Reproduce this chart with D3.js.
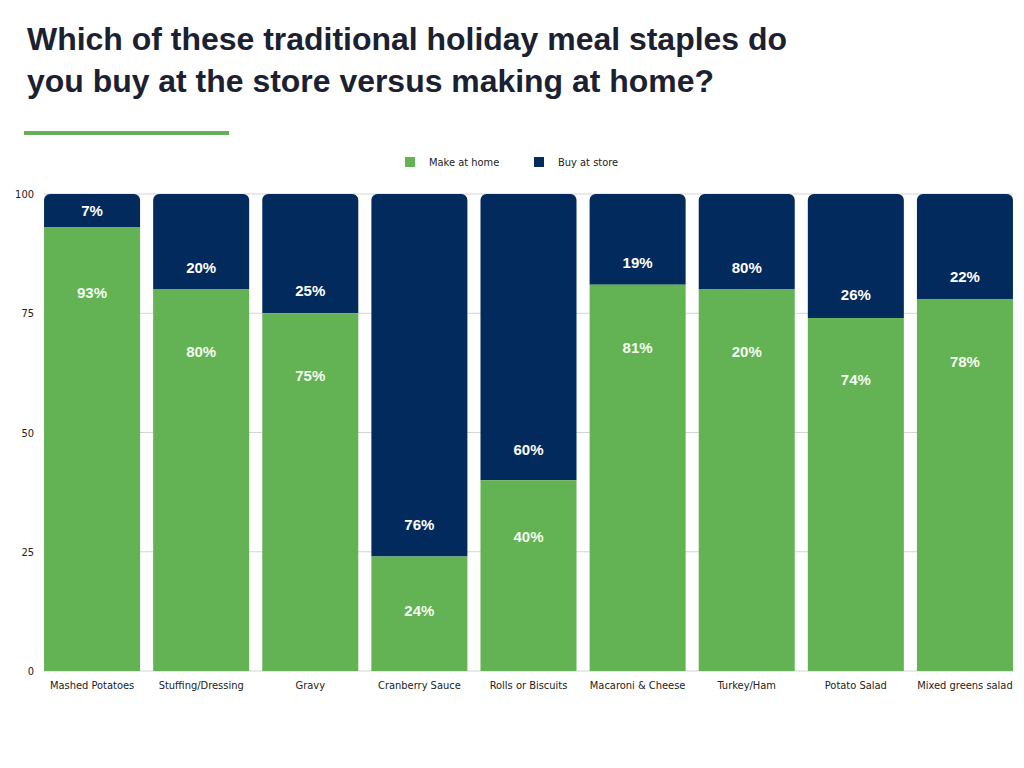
<!DOCTYPE html>
<html><head><meta charset="utf-8">
<script src="https://cdn.jsdelivr.net/npm/d3@7"></script>
<style>body{margin:0;background:#fff}svg{display:block}</style>
</head><body>
<svg id="c" width="1024" height="768"></svg>
<script>
const categories = ["Mashed Potatoes","Stuffing/Dressing","Gravy","Cranberry Sauce","Rolls or Biscuits","Macaroni & Cheese","Turkey/Ham","Potato Salad","Mixed greens salad"];
const makeAtHome = [93,80,75,24,40,81,80,74,78];
const buyAtStore = [7,20,25,76,60,19,20,26,22];
const homeLabels = ["93%","80%","75%","24%","40%","81%","20%","74%","78%"];
const storeLabels = ["7%","20%","25%","76%","60%","19%","80%","26%","22%"];
const yTicks = [0,25,50,75,100];
const seriesNames = ["Make at home","Buy at store"];

const GREEN = "#63b355", NAVY = "#032a5c";
const narrow = "'Liberation Sans Narrow','DejaVu Sans Condensed',sans-serif";
const svg = d3.select("#c");

// title
const title = svg.append("g").attr("font-family","'Liberation Sans',Arial,sans-serif").attr("font-weight","bold").attr("font-size",32).attr("fill","#1b2130");
title.append("text").attr("x",27).attr("y",50).attr("textLength",760).attr("lengthAdjust","spacingAndGlyphs").text("Which of these traditional holiday meal staples do");
title.append("text").attr("x",27).attr("y",92).attr("textLength",687).attr("lengthAdjust","spacingAndGlyphs").text("you buy at the store versus making at home?");
svg.append("rect").attr("x",24).attr("y",131).attr("width",205).attr("height",4).attr("fill","#6aad59");

// legend
const leg = svg.append("g").attr("font-family",narrow).attr("font-size",11).attr("fill","#222");
[[405,GREEN],[534,NAVY]].forEach(([x,c],i)=>{
  leg.append("rect").attr("x",x).attr("y",157).attr("width",10).attr("height",10).attr("fill",c);
  leg.append("text").attr("x",x+24).attr("y",166).text(seriesNames[i]);
});

const x = d3.scaleBand().domain(categories).range([37.5,1019.5]).paddingInner(0.12).paddingOuter(0.06);
const y = d3.scaleLinear().domain([0,100]).range([671,194]);

// grid
const grid = svg.append("g");
yTicks.forEach(t=>{
  grid.append("line").attr("x1",44).attr("x2",1013).attr("y1",y(t)).attr("y2",y(t)).attr("stroke","#d4d4d4").attr("stroke-width",1);
});
const yAxis = svg.append("g").attr("transform","translate(34,0)")
  .call(d3.axisLeft(y).tickValues(yTicks).tickSize(0).tickPadding(0));
yAxis.select(".domain").remove();
yAxis.selectAll("text").attr("font-family",narrow).attr("font-size",11).attr("fill","#222");

// x labels
const xAxis = svg.append("g").attr("transform","translate(0,679)")
  .call(d3.axisBottom(x).tickSize(0).tickPadding(0));
xAxis.select(".domain").remove();
xAxis.selectAll("text").attr("font-family",narrow).attr("font-size",11).attr("fill","#222").attr("dy","0.95em");

// bars
const r = 6;
const bars = svg.append("g");
categories.forEach((c,i)=>{
  const x0 = x(c), w = x.bandwidth();
  const top = y(100), mid = y(makeAtHome[i]), bot = y(0);
  const p = d3.path();
  p.moveTo(x0, mid);
  p.lineTo(x0, top + r);
  p.arcTo(x0, top, x0 + r, top, r);
  p.lineTo(x0 + w - r, top);
  p.arcTo(x0 + w, top, x0 + w, top + r, r);
  p.lineTo(x0 + w, mid);
  p.closePath();
  bars.append("path").attr("d", p.toString()).attr("fill", NAVY);
  bars.append("rect").attr("x",x0).attr("y",mid).attr("width",w).attr("height",bot-mid).attr("fill",GREEN);

  const cx = x0 + w/2;
  const navyY = Math.max((top+mid)/2, mid - Math.min(32, 18 + 0.2*buyAtStore[i]));
  const greenY = mid + 50 + 0.16*makeAtHome[i];
  bars.append("text").attr("x",cx).attr("y",navyY).attr("dy","0.35em").attr("text-anchor","middle")
    .attr("font-family","'Liberation Sans',Arial,sans-serif").attr("font-weight","bold").attr("font-size",15).attr("fill","#fff").text(storeLabels[i]);
  bars.append("text").attr("x",cx).attr("y",greenY).attr("dy","0.35em").attr("text-anchor","middle")
    .attr("font-family","'Liberation Sans',Arial,sans-serif").attr("font-weight","bold").attr("font-size",15).attr("fill","#f3fbef").text(homeLabels[i]);
});
</script>
</body></html>
